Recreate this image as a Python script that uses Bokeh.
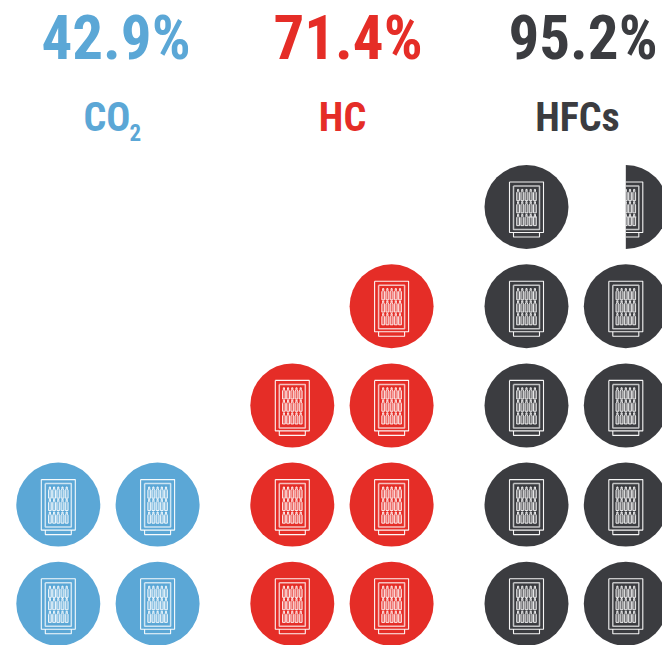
from bokeh.plotting import figure
from bokeh.embed import file_html
from bokeh.resources import INLINE
from bokeh.core.properties import value
from bokeh.models import Range1d
import math

# data
series = ["CO", "HC", "HFCs"]
percent_labels = ["42.9%", "71.4%", "95.2%"]
left_units = [2, 3, 5]
right_units = [2, 4, 4.5]
colors = ["#5BA7D6", "#E52D27", "#3B3C40"]

# layout
W, H = 662, 645
left_cols = [57.8, 291.8, 526]
pitch_x = 99.3
bottom_row = 603.3
pitch_y = 99.2
R = 42
title_x = [115.5, 347.5, 582.5]
label_x = [106.5, 342, 577]
FONT = "'Roboto Condensed', 'Liberation Sans Narrow', Roboto"

p = figure(width=W, height=H, x_range=Range1d(0, W), y_range=Range1d(-H, 0),
           toolbar_location=None, output_backend="svg", min_border=0,
           outline_line_color=None, background_fill_color="white", border_fill_color="white")
p.axis.visible = False
p.grid.visible = False


def clip(poly):
    """keep the parts of a polyline lying right of x=0"""
    out, cur = [], []
    for (a, b) in zip(poly[:-1], poly[1:]):
        (x0, y0), (x1, y1) = a, b
        if x0 < 0 and x1 < 0:
            continue
        if x0 < 0:
            t = -x0 / (x1 - x0)
            x0, y0 = 0, y0 + t * (y1 - y0)
        if x1 < 0:
            t = -x0 / (x1 - x0)
            x1, y1 = 0, y0 + t * (y1 - y0)
        if cur and cur[-1] == (x0, y0):
            cur.append((x1, y1))
        else:
            if cur:
                out.append(cur)
            cur = [(x0, y0), (x1, y1)]
    if cur:
        out.append(cur)
    return out


def rect(x0, y0, x1, y1):
    return [(x0, y0), (x1, y0), (x1, y1), (x0, y1), (x0, y0)]


def bottle(cx, cy):
    return [(cx - 1.4, cy + 5.6), (cx - 1.4, cy - 2.4), (cx - 0.6, cy - 3.6), (cx - 0.6, cy - 5.6),
            (cx + 0.6, cy - 5.6), (cx + 0.6, cy - 3.6), (cx + 1.4, cy - 2.4), (cx + 1.4, cy + 5.6),
            (cx - 1.4, cy + 5.6)]


def icon(cx, cy, half=False, stray=False):
    thin, mid, soft = [], [], []
    thin.append(rect(-17, -25, 17, 25.5))
    thin.append([(-13, 25.5), (-13, 30), (13, 30), (13, 25.5)])
    soft.append(rect(-13, -21, 13, 22.5))
    bottles = []
    for oy in (-12, 0.3, 13):
        for ox in (-8.4, -4.2, 0, 4.2, 8.4):
            bottles.append(bottle(ox, oy))
    if stray:
        mid.append([(1, 10), (10.5, 10)])

    def split(group):
        xs, ys = [], []
        for poly in group:
            parts = clip(poly) if half else [poly]
            for part in parts:
                xs.append([cx + q[0] for q in part])
                ys.append([-(cy + q[1]) for q in part])
        return xs, ys

    if not half:
        bx, by = split(bottles)
        p.patches(bx, by, fill_color="white", fill_alpha=0.3, line_color=None)
    else:
        bx = [[cx + max(q[0], 0) for q in b] for b in bottles if max(q[0] for q in b) > 0]
        by = [[-(cy + q[1]) for q in b] for b in bottles if max(q[0] for q in b) > 0]
        p.patches(bx, by, fill_color="white", fill_alpha=0.3, line_color=None)
    for group, lw, alpha in ((thin, 1.1, 0.95), (bottles, 0.9, 0.95), (mid, 0.9, 0.95), (soft, 1.5, 0.7)):
        xs, ys = split(group)
        if xs:
            p.multi_line(xs, ys, line_color="white", line_width=lw, line_alpha=alpha)


for i in range(3):
    for col, n in enumerate((left_units[i], right_units[i])):
        row = 0
        while row < n:
            cx = left_cols[i] + col * pitch_x
            cy = bottom_row - row * pitch_y
            half = n - row < 1
            if half:
                p.wedge([cx], [-cy], radius=R, start_angle=-math.pi / 2, end_angle=math.pi / 2,
                        fill_color=colors[i], line_color=None)
            else:
                p.circle([cx], [-cy], radius=R, fill_color=colors[i], line_color=None)
            icon(cx, cy, half, stray=(i == 2 and row == 4))
            row += 1

for i in range(3):
    p.text([title_x[i]], [-37], text=[percent_labels[i]], text_font=value(FONT), text_font_style="bold",
           text_font_size="61px", text_color=colors[i], text_align="center", text_baseline="alphabetic")
    p.text([label_x[i]], [-117], text=[series[i]], text_font=value(FONT), text_font_style="bold",
           text_font_size="40px", text_color=colors[i], text_align="center", text_baseline="alphabetic")
p.text([129], [-132], text=["2"], text_font=value(FONT), text_font_style="bold",
       text_font_size="23px", text_color=colors[0], text_align="left", text_baseline="alphabetic")

open("out.html", "w").write(file_html(p, INLINE))
